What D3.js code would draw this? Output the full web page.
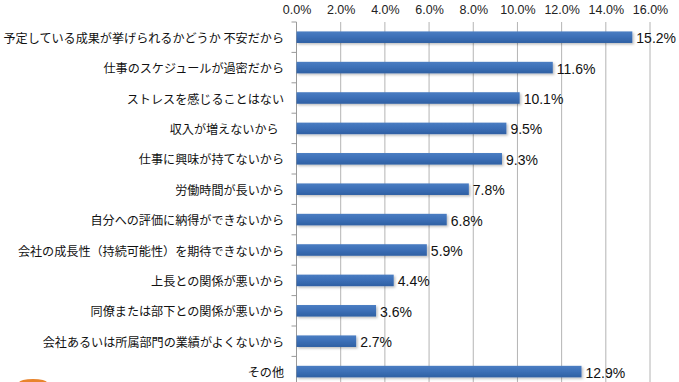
<!DOCTYPE html>
<html>
<head>
<meta charset="utf-8">
<script src="https://cdn.jsdelivr.net/npm/d3@7"></script>
<style>
  html, body { margin: 0; padding: 0; background: #fff; }
  svg { display: block; }
</style>
</head>
<body>
<svg id="chart" width="679" height="382"></svg>
<script>
const categories = [
  "予定している成果が挙げられるかどうか 不安だから",
  "仕事のスケジュールが過密だから",
  "ストレスを感じることはない",
  "収入が増えないから  ",
  "仕事に興味が持てないから",
  "労働時間が長いから",
  "自分への評価に納得ができないから",
  "会社の成長性（持続可能性）を期待できないから",
  "上長との関係が悪いから",
  "同僚または部下との関係が悪いから",
  "会社あるいは所属部門の業績がよくないから",
  "その他"
];
const values = [15.2, 11.6, 10.1, 9.5, 9.3, 7.8, 6.8, 5.9, 4.4, 3.6, 2.7, 12.9];
const tickValues = [0, 2, 4, 6, 8, 10, 12, 14, 16];

(function () {
const svg = d3.select("#chart");
const plotLeft = 296.5, plotRight = 650, plotTop = 22, step = 30.4;

const x = d3.scaleLinear().domain([0, 16]).range([plotLeft, plotRight]);
const y = d3.scaleBand().domain(categories)
  .range([plotTop, plotTop + step * categories.length])
  .paddingInner(0.62).paddingOuter(0.31);

const defs = svg.append("defs");
const grad = defs.append("linearGradient").attr("id", "barGrad")
  .attr("x1", 0).attr("y1", 0).attr("x2", 0).attr("y2", 1);
grad.append("stop").attr("offset", "0%").attr("stop-color", "#4a7dc2");
grad.append("stop").attr("offset", "45%").attr("stop-color", "#3d70b8");
grad.append("stop").attr("offset", "100%").attr("stop-color", "#2f60a3");
const f = defs.append("filter").attr("id", "shadow")
  .attr("x", "-5%").attr("y", "-30%").attr("width", "115%").attr("height", "190%");
f.append("feDropShadow").attr("dx", 1.5).attr("dy", 1.5).attr("stdDeviation", 1)
  .attr("flood-color", "#000").attr("flood-opacity", 0.25);

// gridlines
svg.append("g").selectAll("line").data(tickValues.slice(1)).join("line")
  .attr("x1", d => x(d)).attr("x2", d => x(d))
  .attr("y1", plotTop).attr("y2", 382)
  .attr("stroke", "#b4b4b4").attr("stroke-width", 1);

// top axis labels
const xAxis = d3.axisTop(x).tickValues(tickValues)
  .tickFormat(d => d3.format(".1f")(d) + "%").tickSize(0).tickPadding(0);
const gx = svg.append("g").attr("transform", `translate(0,${plotTop - 8})`).call(xAxis);
gx.select(".domain").remove();
gx.selectAll("text")
  .attr("font-family", "'Liberation Sans', Arial, sans-serif")
  .attr("font-size", 12.5).attr("fill", "#222").attr("dy", "0");

// left axis line + ticks between categories
svg.append("line")
  .attr("x1", x(0)).attr("x2", x(0)).attr("y1", plotTop).attr("y2", 382)
  .attr("stroke", "#9a9a9a");
svg.append("g").selectAll("line")
  .data(d3.range(categories.length + 1)).join("line")
  .attr("x1", x(0) - 5).attr("x2", x(0))
  .attr("y1", i => plotTop + i * step).attr("y2", i => plotTop + i * step)
  .attr("stroke", "#9a9a9a");

// category labels
svg.append("g").selectAll("text").data(categories).join("text")
  .attr("x", 284).attr("y", d => y(d) + y.bandwidth() / 2)
  .attr("text-anchor", "end").attr("dominant-baseline", "central")
  .style("white-space", "pre")
  .attr("font-family", "'Noto Sans CJK JP', sans-serif")
  .attr("font-size", 12.1).attr("fill", "#111")
  .text(d => d);

// bars
svg.append("g").selectAll("rect").data(values).join("rect")
  .attr("x", x(0)).attr("y", (d, i) => y(categories[i]))
  .attr("width", d => x(d) - x(0)).attr("height", y.bandwidth())
  .attr("fill", "url(#barGrad)").attr("filter", "url(#shadow)");

// value labels
svg.append("g").selectAll("text").data(values).join("text")
  .attr("x", d => x(d) + 4).attr("y", (d, i) => y(categories[i]) + y.bandwidth() / 2 + 1)
  .attr("dominant-baseline", "central")
  .attr("font-family", "'Liberation Sans', Arial, sans-serif")
  .attr("font-size", 14).attr("fill", "#111")
  .text(d => d3.format(".1f")(d) + "%");

// partial logo fragment at bottom-left
svg.append("ellipse").attr("cx", 33).attr("cy", 382.5).attr("rx", 14).attr("ry", 3.5)
  .attr("fill", "#e8842c");
})();
</script>
</body>
</html>
